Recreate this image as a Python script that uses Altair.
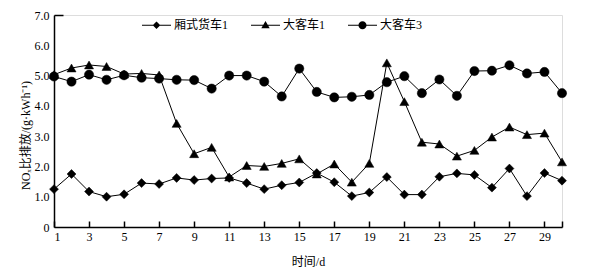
import altair as alt
import pandas as pd

days = list(range(1, 31))
series_names = ["厢式货车1", "大客车1", "大客车3"]
van1 = [1.25, 1.75, 1.17, 1.00, 1.08, 1.45, 1.42, 1.62, 1.55, 1.60,
        1.62, 1.45, 1.25, 1.38, 1.47, 1.78, 1.48, 1.02, 1.14, 1.65,
        1.07, 1.07, 1.66, 1.77, 1.72, 1.30, 1.93, 1.02, 1.78, 1.53]
bus1 = [5.03, 5.25, 5.35, 5.30, 5.05, 5.07, 5.02, 3.42, 2.42, 2.63,
        1.65, 2.03, 2.00, 2.10, 2.25, 1.75, 2.08, 1.48, 2.10, 5.42,
        4.14, 2.80, 2.74, 2.34, 2.53, 2.97, 3.30, 3.05, 3.10, 2.15]
bus3 = [4.97, 4.80, 5.03, 4.86, 5.01, 4.93, 4.90, 4.86, 4.85, 4.57,
        5.00, 5.00, 4.80, 4.31, 5.23, 4.46, 4.28, 4.30, 4.36, 4.78,
        4.98, 4.42, 4.87, 4.33, 5.15, 5.16, 5.34, 5.07, 5.12, 4.42]
x_label_values = list(range(1, 30, 2))
x_tick_values = x_label_values + [30]
y_values = [0, 1, 2, 3, 4, 5, 6, 7]

rows = []
for name, vals in zip(series_names, [van1, bus1, bus3]):
    for d, v in zip(days, vals):
        rows.append({"day": d, "value": v, "series": name})
df = pd.DataFrame(rows)

FONT = "Liberation Serif, Noto Sans CJK SC"
xscale = alt.Scale(domain=[1, 30], nice=False, zero=False)
yscale = alt.Scale(domain=[0, 7], nice=False)

main_x = alt.Axis(values=x_label_values, ticks=False, tickSize=0, labelPadding=4,
                  domainColor="black", domainWidth=1.5, grid=False, orient="bottom",
                  title="时间/d", titleY=34, titleBaseline="middle", titleFontWeight="normal",
                  titleFont=FONT, titleFontSize=12, titleColor="black",
                  labelFont=FONT, labelFontSize=12, labelColor="black")
main_y = alt.Axis(values=y_values, ticks=False, tickSize=0, labelPadding=5,
                  labelExpr="datum.value == 0 ? '0' : format(datum.value, '.1f')",
                  domainColor="black", domainWidth=1.5, grid=False, orient="left",
                  title="NOₓ比排放/(g·kWh⁻¹)", titleX=-29, titleY=120, titleAngle=-90,
                  titleAlign="center", titleBaseline="middle", titleFontWeight="normal",
                  titleFont=FONT, titleFontSize=12, titleColor="black",
                  labelFont=FONT, labelFontSize=12, labelColor="black")
tick_x = alt.Axis(values=x_tick_values, orient="bottom", offset=-6, tickSize=6,
                  tickColor="black", tickWidth=1.5, labels=False, domain=False,
                  grid=False, title=None)
cap_y = alt.Axis(values=[7], orient="left", offset=-9, tickSize=9,
                 tickColor="black", tickWidth=1.5, labels=False, domain=False,
                 grid=False, title=None)

base = alt.Chart(df)

lines = base.mark_line(color="black", strokeWidth=1).encode(
    x=alt.X("day:Q", scale=xscale, axis=main_x),
    y=alt.Y("value:Q", scale=yscale, axis=main_y),
    detail="series:N",
)

points = base.mark_point(filled=True, fill="black", stroke="black", strokeWidth=0.5, opacity=1).encode(
    x=alt.X("day:Q", scale=xscale, axis=tick_x),
    y=alt.Y("value:Q", scale=yscale, axis=cap_y),
    shape=alt.Shape("series:N", scale=alt.Scale(domain=series_names,
                    range=["diamond", "triangle-up", "circle"]), legend=None),
    size=alt.Size("series:N", scale=alt.Scale(domain=series_names, range=[80, 85, 95]), legend=None),
)

bar = "M-1,-0.04H1V0.04H-1Z"
legend_paths = [
    bar + "M0,-0.26L0.26,0L0,0.26L-0.26,0Z",
    bar + "M0,-0.3L0.29,0.2L-0.29,0.2Z",
    bar + "M0.28,0A0.28,0.28,0,1,1,-0.28,0A0.28,0.28,0,1,1,0.28,0Z",
]
legend_layer = base.transform_filter("false").mark_point(
    filled=True, fill="black", opacity=1, size=841
).encode(
    x=alt.X("day:Q", scale=xscale, axis=None),
    y=alt.Y("value:Q", scale=yscale, axis=None),
    shape=alt.Shape("series:N", scale=alt.Scale(domain=series_names, range=legend_paths),
                    legend=alt.Legend(orient="none", legendX=88, legendY=-4.5,
                                      direction="horizontal", title=None,
                                      symbolSize=841, symbolStrokeWidth=0,
                                      symbolFillColor="black", symbolOpacity=1,
                                      labelFont=FONT, labelFontSize=12, labelColor="black",
                                      labelOffset=3, columnPadding=22, padding=0,
                                      labelLimit=0)),
)

chart = alt.layer(lines, points, legend_layer).resolve_scale(
    shape="independent", size="independent"
).resolve_axis(x="independent", y="independent").properties(
    width=508, height=212,
    padding={"left": 54, "top": 15, "right": 38, "bottom": 47},
    autosize=alt.AutoSizeParams(type="none"),
).configure_view(stroke=None).configure(background="white")

chart.save("out.html", embed_options={"renderer": "svg", "actions": False})
